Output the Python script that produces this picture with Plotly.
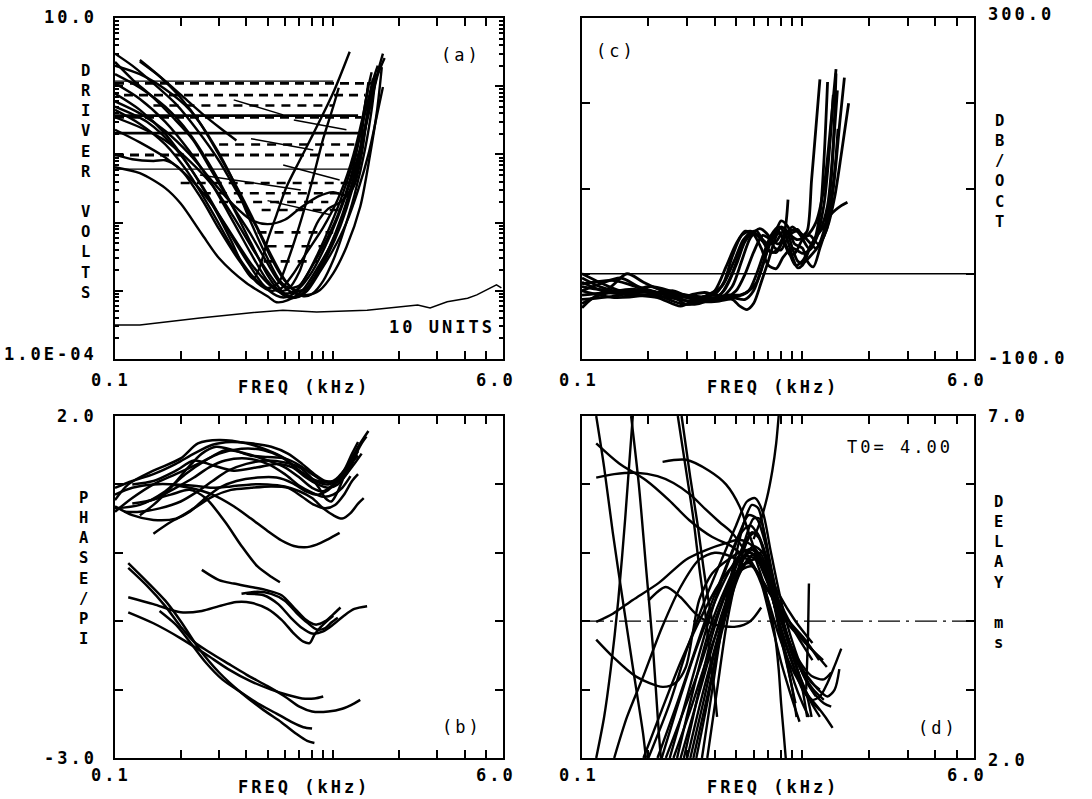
import plotly.graph_objects as go

# ---------------- panel (a): driver volts vs frequency ----------------
A_V1 = [(0.1, 0.065), (0.13, 0.053), (0.17, 0.032), (0.2, 0.019), (0.25, 0.0068), (0.3, 0.003), (0.4, 0.0013),
        (0.5, 0.00083), (0.55, 0.00068), (0.62, 0.00073), (0.72, 0.001), (0.85, 0.0022), (1.0, 0.0056),
        (1.15, 0.018), (1.3, 0.083), (1.45, 0.38), (1.6, 1.46), (1.72, 2.6)]
A_V2 = [(0.1, 2.27), (0.121, 1.23), (0.149, 0.69), (0.184, 0.35), (0.228, 0.163), (0.281, 0.053), (0.347, 0.0171),
        (0.416, 0.007), (0.497, 0.0026), (0.57, 0.0013), (0.655, 0.00093), (0.76, 0.00087), (0.87, 0.00103),
        (1.0, 0.0018), (1.15, 0.0044), (1.33, 0.0171), (1.47, 0.092), (1.59, 0.45), (1.67, 1.9)]
A_V3 = [(0.13, 2.42), (0.161, 1.37), (0.199, 0.69), (0.245, 0.29), (0.303, 0.092), (0.374, 0.027), (0.448, 0.0086),
        (0.513, 0.0036), (0.588, 0.0016), (0.655, 0.00103), (0.73, 0.00083), (0.8, 0.0009), (0.9, 0.0014),
        (1.0, 0.0028), (1.1, 0.0065), (1.25, 0.025), (1.4, 0.12), (1.5, 0.45), (1.56, 1.25)]
A_V4 = [(0.1, 0.78), (0.13, 0.45), (0.17, 0.2), (0.22, 0.065), (0.28, 0.018), (0.34, 0.0055), (0.39, 0.0022),
        (0.43, 0.0015), (0.46, 0.0022), (0.5, 0.0055), (0.55, 0.013), (0.61, 0.033), (0.7, 0.08), (0.81, 0.2),
        (1.0, 0.8), (1.19, 3.2)]
A_V5 = [(0.1, 0.45), (0.13, 0.28), (0.17, 0.14), (0.22, 0.05), (0.28, 0.014), (0.35, 0.004), (0.43, 0.0016),
        (0.5, 0.0011), (0.56, 0.0013), (0.62, 0.0028), (0.7, 0.009), (0.8, 0.04), (0.9, 0.17), (1.0, 0.5),
        (1.06, 0.95)]
A_V6 = [(0.1, 1.5), (0.13, 0.95), (0.17, 0.5), (0.22, 0.2), (0.28, 0.06), (0.35, 0.016), (0.42, 0.005),
        (0.5, 0.0017), (0.58, 0.0009), (0.65, 0.00078), (0.72, 0.0009), (0.82, 0.0016), (0.95, 0.004),
        (1.1, 0.013), (1.25, 0.05), (1.38, 0.2), (1.48, 0.7), (1.56, 1.5)]
A_V7 = [(0.1, 0.23), (0.13, 0.15), (0.17, 0.09), (0.22, 0.045), (0.28, 0.018), (0.35, 0.006), (0.42, 0.0025),
        (0.5, 0.0013), (0.57, 0.00095), (0.63, 0.00092), (0.7, 0.0011), (0.8, 0.0019), (0.92, 0.0045),
        (1.05, 0.012), (1.2, 0.04), (1.35, 0.15), (1.48, 0.55), (1.6, 1.6), (1.69, 3.0)]
A_V8 = [(0.1, 1.1), (0.13, 0.65), (0.17, 0.3), (0.22, 0.11), (0.28, 0.035), (0.35, 0.01), (0.42, 0.0035),
        (0.5, 0.0014), (0.56, 0.001), (0.62, 0.00105), (0.7, 0.0019), (0.78, 0.0055), (0.86, 0.011),
        (0.95, 0.016), (1.08, 0.02), (1.2, 0.03), (1.3, 0.07), (1.38, 0.35), (1.45, 1.15)]
A_V9 = [(0.1, 0.6), (0.13, 0.4), (0.17, 0.22), (0.22, 0.1), (0.28, 0.04), (0.35, 0.018), (0.42, 0.011),
        (0.5, 0.0095), (0.6, 0.011), (0.7, 0.016), (0.85, 0.024), (1.0, 0.028), (1.15, 0.025), (1.25, 0.035),
        (1.35, 0.1), (1.45, 0.5), (1.52, 1.3)]
A_V10 = [(0.1, 0.35), (0.13, 0.25), (0.17, 0.16), (0.22, 0.08), (0.28, 0.035), (0.35, 0.012), (0.43, 0.004),
         (0.52, 0.0016), (0.6, 0.0009), (0.68, 0.0008), (0.76, 0.001), (0.86, 0.0018), (1.0, 0.004),
         (1.15, 0.01), (1.3, 0.03), (1.45, 0.1), (1.58, 0.35), (1.69, 0.97)]
A_V11 = [(0.1, 0.1), (0.12, 0.085), (0.15, 0.08), (0.17, 0.082), (0.2, 0.06), (0.25, 0.022), (0.3, 0.008),
         (0.37, 0.0028), (0.45, 0.0013), (0.52, 0.001), (0.58, 0.0011), (0.65, 0.0017), (0.75, 0.0035),
         (0.9, 0.0085), (1.05, 0.022), (1.2, 0.07), (1.35, 0.3), (1.45, 1.0)]
A_V12 = [(0.1, 2.0), (0.13, 1.5), (0.17, 0.9), (0.22, 0.45), (0.28, 0.15), (0.35, 0.04), (0.42, 0.01),
         (0.5, 0.003), (0.57, 0.0014), (0.63, 0.0011), (0.7, 0.0012), (0.78, 0.002), (0.9, 0.0045),
         (1.05, 0.013), (1.2, 0.045), (1.33, 0.2), (1.43, 0.8), (1.5, 1.6)]
A_V13 = [(0.1, 0.5), (0.14, 0.3), (0.19, 0.12), (0.25, 0.035), (0.32, 0.009), (0.4, 0.0028), (0.48, 0.0012),
         (0.55, 0.00085), (0.6, 0.0008), (0.67, 0.00095), (0.75, 0.0016), (0.85, 0.0035), (0.97, 0.009),
         (1.1, 0.025), (1.25, 0.09), (1.4, 0.4), (1.52, 1.2), (1.6, 2.0)]
A_V14 = [(0.1, 3.0), (0.12, 2.0), (0.15, 1.1), (0.19, 0.55), (0.24, 0.22), (0.3, 0.08), (0.37, 0.025),
         (0.45, 0.008), (0.52, 0.003), (0.6, 0.0014), (0.68, 0.001), (0.76, 0.0011), (0.85, 0.0018),
         (0.95, 0.0035), (1.08, 0.009), (1.22, 0.03), (1.35, 0.12), (1.45, 0.45), (1.53, 1.2)]
A_P1 = [(0.13, 2.3), (0.16, 1.4), (0.2, 0.75), (0.25, 0.4), (0.3, 0.25), (0.36, 0.16)]
A_CURVES = [A_V1, A_V2, A_V3, A_V4, A_V5, A_V6, A_V7, A_V8, A_V9, A_V10, A_V11, A_V12, A_V13, A_V14, A_P1]

# short sloped segments
A_S1 = [(0.35, 0.63), (0.59, 0.38)]
A_S2 = [(0.42, 0.17), (0.81, 0.116)]
A_S3 = [(0.66, 0.32), (1.15, 0.23)]
A_S4 = [(0.245, 0.05), (0.71, 0.03)]
A_S5 = [(0.59, 0.07), (1.07, 0.042)]
A_S6 = [(0.5, 0.021), (0.97, 0.013)]
A_SEGMENTS = [A_S1, A_S2, A_S3, A_S4, A_S5, A_S6]

# horizontal level lines
A_H_LEVEL = [1.19, 1.1, 0.74, 0.35, 0.37, 0.205, 0.098, 0.061, 0.038, 0.027, 0.0153, 0.0072, 0.0027,
             0.52, 0.14, 0.02, 0.0045]
A_H_START = [0.1, 0.1, 0.11, 0.1, 0.1, 0.1, 0.1, 0.1, 0.2, 0.25, 0.47, 0.45, 0.48, 0.15, 0.3, 0.3, 0.5]
A_H_END = [1.0, 1.55, 1.4, 1.35, 1.3, 1.38, 1.3, 1.2, 1.2, 1.1, 1.15, 1.0, 0.85, 1.0, 1.25, 0.95, 0.9]

# 10-unit reference trace
A_UNITS = [(0.1, 0.000315), (0.13, 0.000315), (0.245, 0.0004), (0.4, 0.00047), (0.588, 0.00052),
           (0.84, 0.00049), (1.43, 0.00052), (2.44, 0.00062), (2.78, 0.00056), (3.33, 0.00069),
           (4.13, 0.00078), (4.55, 0.00087), (5.6, 0.00122), (5.9, 0.0011)]

# ---------------- panel (c): slope in dB/oct ----------------
C1 = [(0.1, -20), (0.12, -12), (0.15, -5), (0.18, -15), (0.22, -22), (0.27, -30), (0.3, -36), (0.35, -30),
      (0.4, -20), (0.45, 8), (0.5, 35), (0.55, 50), (0.6, 46), (0.65, 30), (0.7, 10), (0.76, 6), (0.82, 20),
      (0.9, 30), (1.0, 24), (1.1, 30), (1.2, 70), (1.25, 130), (1.3, 225)]
C2 = [(0.1, -5), (0.12, -15), (0.15, -22), (0.2, -25), (0.25, -28), (0.3, -32), (0.35, -33), (0.42, -30),
      (0.48, -15), (0.53, 15), (0.58, 42), (0.64, 53), (0.7, 45), (0.75, 30), (0.8, 28), (0.87, 45), (0.95, 50),
      (1.05, 40), (1.15, 30), (1.25, 50), (1.35, 110), (1.42, 235)]
C3 = [(0.1, -40), (0.11, -30), (0.13, -20), (0.16, -22), (0.2, -20), (0.25, -25), (0.3, -28), (0.36, -33),
      (0.42, -32), (0.48, -30), (0.52, -38), (0.56, -42), (0.6, -35), (0.65, -10), (0.7, 15), (0.75, 40),
      (0.8, 55), (0.85, 50), (0.9, 30), (0.95, 15), (1.0, 12), (1.08, 20), (1.2, 35), (1.3, 55), (1.4, 90),
      (1.5, 140), (1.62, 200)]
C4 = [(0.1, -15), (0.13, -18), (0.16, 0), (0.19, -10), (0.23, -20), (0.28, -28), (0.32, -24), (0.36, -22),
      (0.42, -25), (0.47, -5), (0.52, 25), (0.57, 47), (0.62, 50), (0.68, 35), (0.73, 40), (0.8, 62), (0.86, 55),
      (0.92, 35), (1.0, 30), (1.05, 15), (1.12, 8), (1.2, 30), (1.3, 60), (1.4, 120), (1.45, 170)]
C5 = [(0.1, -25), (0.13, -22), (0.17, -18), (0.22, -25), (0.28, -35), (0.34, -35), (0.4, -28), (0.46, -25),
      (0.52, -25), (0.57, -20), (0.62, 0), (0.67, 25), (0.72, 45), (0.78, 55), (0.84, 45), (0.9, 20), (0.95, 7),
      (1.0, 10), (1.08, 30), (1.16, 45), (1.25, 55), (1.35, 70), (1.5, 80), (1.6, 84)]
C6 = [(0.1, 0), (0.12, -10), (0.15, -20), (0.2, -22), (0.25, -22), (0.3, -25), (0.35, -27), (0.4, -24),
      (0.44, -10), (0.48, 20), (0.53, 45), (0.58, 50), (0.64, 43), (0.7, 35), (0.76, 38), (0.82, 50), (0.88, 45),
      (0.95, 40), (1.05, 45), (1.15, 60), (1.25, 100), (1.35, 180), (1.42, 240)]
C7 = [(0.1, -10), (0.13, -22), (0.17, -25), (0.22, -28), (0.28, -38), (0.33, -30), (0.38, -28), (0.44, -28),
      (0.5, -27), (0.56, -22), (0.62, -10), (0.67, 15), (0.72, 40), (0.78, 50), (0.83, 35), (0.88, 22),
      (0.93, 25), (1.0, 40), (1.08, 45), (1.18, 35), (1.28, 50), (1.38, 100), (1.48, 180), (1.55, 230)]
C8 = [(0.1, -30), (0.15, -25), (0.2, -15), (0.25, -20), (0.3, -28), (0.38, -30), (0.45, -28), (0.5, -20),
      (0.55, 0), (0.6, 25), (0.66, 45), (0.72, 40), (0.78, 35), (0.83, 50), (0.86, 87)]
C9 = [(0.1, -20), (0.14, -28), (0.2, -25), (0.26, -20), (0.32, -30), (0.38, -32), (0.44, -20), (0.5, 10),
      (0.55, 38), (0.6, 48), (0.66, 38), (0.72, 25), (0.78, 30), (0.85, 48), (0.95, 52), (1.0, 45), (1.05, 50),
      (1.1, 110), (1.15, 170), (1.2, 228)]
C10 = [(0.1, -35), (0.12, -25), (0.16, -20), (0.22, -22), (0.28, -25), (0.35, -28), (0.42, -30), (0.48, -28),
       (0.55, -30), (0.6, -20), (0.65, 5), (0.7, 30), (0.75, 48), (0.8, 45), (0.87, 25), (0.93, 10), (1.0, 15),
       (1.1, 35), (1.2, 50), (1.3, 80), (1.38, 150), (1.44, 215)]
C11 = [(0.1, -12), (0.14, -8), (0.19, -18), (0.25, -26), (0.31, -32), (0.37, -25), (0.43, -15), (0.49, 15),
       (0.54, 40), (0.59, 48), (0.65, 42), (0.7, 28), (0.76, 25), (0.82, 40), (0.9, 55), (0.98, 45), (1.07, 30),
       (1.15, 40), (1.25, 80), (1.33, 150), (1.38, 210)]
C_CURVES = [C1, C2, C3, C4, C5, C6, C7, C8, C9, C10, C11]
C_ZERO = [(0.1, 0), (6.0, 0)]

# ---------------- panel (b): phase / pi ----------------
B_U1 = [(0.1, 0.77), (0.115, 1.0), (0.15, 1.2), (0.2, 1.38), (0.24, 1.6), (0.3, 1.65), (0.4, 1.6), (0.5, 1.5),
        (0.6, 1.38), (0.7, 1.2), (0.85, 1.05), (1.0, 1.05), (1.15, 1.25), (1.3, 1.55), (1.45, 1.78)]
B_U2 = [(0.1, 0.6), (0.12, 0.8), (0.15, 1.0), (0.19, 1.15), (0.24, 1.3), (0.3, 1.45), (0.38, 1.52), (0.48, 1.5),
        (0.58, 1.4), (0.7, 1.2), (0.82, 1.05), (0.95, 1.0), (1.08, 1.1), (1.2, 1.35), (1.3, 1.48)]
B_U3 = [(0.12, 1.0), (0.15, 1.05), (0.19, 1.2), (0.23, 1.35), (0.28, 1.28), (0.35, 1.2), (0.45, 1.25),
        (0.55, 1.3), (0.65, 1.25), (0.75, 1.1), (0.85, 1.0), (0.95, 0.95), (1.05, 1.0), (1.15, 1.15),
        (1.25, 1.3), (1.35, 1.45)]
B_U4 = [(0.1, 0.65), (0.13, 0.7), (0.17, 0.9), (0.21, 1.15), (0.26, 1.35), (0.32, 1.5), (0.4, 1.45), (0.5, 1.35),
        (0.6, 1.25), (0.7, 1.1), (0.8, 0.95), (0.9, 0.9), (1.0, 1.0), (1.1, 1.15), (1.2, 1.3), (1.3, 1.42)]
B_U5 = [(0.1, 0.68), (0.12, 0.55), (0.15, 0.48), (0.19, 0.5), (0.23, 0.65), (0.28, 0.82), (0.34, 0.92),
        (0.42, 0.95), (0.52, 0.97), (0.62, 0.95), (0.72, 0.82), (0.82, 0.7), (0.92, 0.65), (1.02, 0.7),
        (1.12, 0.85), (1.22, 1.05), (1.3, 1.15)]
B_U6 = [(0.15, 0.28), (0.18, 0.45), (0.22, 0.6), (0.26, 0.8), (0.3, 0.95), (0.36, 1.05), (0.45, 1.1),
        (0.55, 1.1), (0.65, 1.02), (0.75, 0.9), (0.85, 0.85), (0.95, 0.92), (1.05, 1.05), (1.15, 1.2),
        (1.25, 1.4), (1.3, 1.5)]
B_U7 = [(0.18, 1.0), (0.22, 0.95), (0.28, 0.85), (0.35, 0.68), (0.42, 0.5), (0.5, 0.32), (0.58, 0.18),
        (0.66, 0.1), (0.74, 0.08), (0.84, 0.12), (0.95, 0.2), (1.07, 0.29)]
B_U8 = [(0.14, 0.75), (0.18, 0.85), (0.22, 0.92), (0.26, 0.8), (0.32, 0.45), (0.38, 0.1), (0.45, -0.2),
        (0.52, -0.35), (0.57, -0.43)]
B_U9 = [(0.1, 0.85), (0.12, 0.95), (0.15, 1.0), (0.19, 1.0), (0.23, 0.98), (0.28, 0.95), (0.34, 0.97),
        (0.42, 1.0), (0.5, 1.0), (0.6, 0.97), (0.7, 0.9), (0.8, 0.8), (0.9, 0.65), (1.0, 0.55), (1.1, 0.5),
        (1.2, 0.58), (1.3, 0.72), (1.38, 0.8)]
B_U10 = [(0.11, 0.6), (0.13, 0.6), (0.16, 0.65), (0.2, 0.75), (0.24, 0.9), (0.28, 1.05), (0.33, 1.2),
         (0.4, 1.3), (0.5, 1.35), (0.6, 1.32), (0.7, 1.25), (0.78, 1.12), (0.86, 0.95), (0.92, 0.8),
         (0.98, 0.75), (1.05, 0.9), (1.15, 1.2), (1.25, 1.4), (1.35, 1.6), (1.42, 1.7)]
B_U11 = [(0.13, 0.55), (0.15, 0.7), (0.18, 0.95), (0.21, 1.2), (0.25, 1.45), (0.29, 1.55), (0.35, 1.5),
         (0.42, 1.42), (0.5, 1.4), (0.6, 1.38), (0.7, 1.28), (0.8, 1.15), (0.9, 1.05), (1.0, 1.02), (1.1, 1.08),
         (1.2, 1.25), (1.28, 1.45)]
B_U12 = [(0.1, 0.95), (0.12, 1.05), (0.15, 1.15), (0.19, 1.3), (0.23, 1.45), (0.28, 1.58), (0.34, 1.62),
         (0.42, 1.6), (0.52, 1.55), (0.62, 1.45), (0.72, 1.3), (0.82, 1.15), (0.92, 1.05), (1.02, 1.05),
         (1.12, 1.2), (1.22, 1.45), (1.3, 1.62)]
B_U13 = [(0.12, 0.72), (0.15, 0.78), (0.19, 0.95), (0.23, 1.1), (0.27, 1.25), (0.32, 1.35), (0.4, 1.38),
         (0.5, 1.3), (0.6, 1.15), (0.7, 0.98), (0.8, 0.88), (0.9, 0.82), (1.0, 0.85), (1.1, 0.95), (1.2, 1.12)]
B_M1 = [(0.25, -0.25), (0.3, -0.4), (0.35, -0.45), (0.42, -0.5), (0.5, -0.55), (0.58, -0.62), (0.66, -0.8),
        (0.75, -0.98), (0.83, -1.05), (0.92, -1.0), (1.0, -0.9), (1.08, -0.8)]
B_M2 = [(0.115, -0.65), (0.15, -0.75), (0.2, -0.87), (0.25, -0.85), (0.3, -0.78), (0.36, -0.72), (0.42, -0.73),
        (0.5, -0.82), (0.58, -0.98), (0.66, -1.18), (0.73, -1.3), (0.78, -1.32), (0.82, -1.2), (0.88, -1.08),
        (0.95, -0.98), (1.0, -0.92)]
B_M3 = [(0.4, -0.6), (0.48, -0.62), (0.56, -0.75), (0.64, -0.95), (0.72, -1.1), (0.8, -1.18), (0.9, -1.15),
        (1.0, -1.05), (1.12, -0.92), (1.25, -0.82), (1.43, -0.78)]
B_M4 = [(0.38, -0.6), (0.45, -0.57), (0.52, -0.6), (0.6, -0.7), (0.68, -0.88), (0.76, -1.02), (0.84, -1.12),
        (0.92, -1.1), (0.98, -1.02), (1.05, -0.95)]
B_L1 = [(0.115, -0.15), (0.14, -0.42), (0.17, -0.7), (0.2, -1.0), (0.24, -1.38), (0.3, -1.75), (0.38, -2.05),
        (0.48, -2.3), (0.58, -2.48), (0.68, -2.65), (0.76, -2.75), (0.82, -2.78)]
B_L2 = [(0.115, -0.22), (0.14, -0.48), (0.17, -0.78), (0.2, -1.08), (0.23, -1.3), (0.27, -1.45), (0.33, -1.62),
        (0.4, -1.78), (0.5, -1.95), (0.6, -2.1), (0.7, -2.25), (0.8, -2.32), (0.95, -2.32), (1.1, -2.28),
        (1.25, -2.2), (1.33, -2.15)]
B_L3 = [(0.115, -0.87), (0.15, -1.03), (0.2, -1.25), (0.26, -1.48), (0.33, -1.7), (0.42, -1.88), (0.52, -2.0),
        (0.62, -2.08), (0.72, -2.13), (0.82, -2.13), (0.9, -2.1)]
B_L4 = [(0.16, -0.85), (0.19, -1.05), (0.22, -1.3), (0.26, -1.6), (0.31, -1.85), (0.37, -2.02), (0.45, -2.2),
        (0.55, -2.35), (0.65, -2.48), (0.73, -2.55), (0.8, -2.57)]
B_CURVES = [B_U1, B_U2, B_U3, B_U4, B_U5, B_U6, B_U7, B_U8, B_U9, B_U10, B_U11, B_U12, B_U13,
            B_M1, B_M2, B_M3, B_M4, B_L1, B_L2, B_L3, B_L4]

# ---------------- panel (d): group delay (ms) ----------------
D1 = [(0.116, 7.0), (0.126, 6.25), (0.138, 5.29), (0.153, 4.31), (0.17, 3.33), (0.189, 2.37), (0.195, 2.0)]
D2 = [(0.167, 7.0), (0.181, 6.0), (0.195, 4.8), (0.21, 3.6), (0.223, 2.37), (0.228, 2.0)]
D3 = [(0.272, 7.0), (0.3, 6.1), (0.32, 5.5), (0.34, 4.8), (0.36, 4.2), (0.38, 3.5), (0.4, 2.95), (0.41, 2.6)]
D3B = [(0.283, 7.0), (0.31, 6.1), (0.335, 5.4), (0.355, 4.8), (0.375, 4.3), (0.39, 4.0)]
D4 = [(0.6, 5.2), (0.65, 5.5), (0.69, 5.8), (0.73, 6.2), (0.76, 6.6), (0.78, 7.0)]
D5 = [(0.6, 5.0), (0.66, 4.6), (0.71, 4.2), (0.75, 3.8), (0.78, 3.3), (0.8, 2.8), (0.82, 2.4), (0.84, 2.0)]
D6 = [(0.116, 6.1), (0.14, 6.15), (0.176, 6.17), (0.22, 6.12), (0.26, 6.02), (0.31, 5.85), (0.365, 5.63),
      (0.42, 5.45), (0.48, 5.29), (0.57, 4.94), (0.68, 4.5), (0.84, 4.06), (1.0, 3.75), (1.11, 3.58), (1.29, 3.33)]
D7 = [(0.232, 6.33), (0.296, 6.36), (0.377, 6.2), (0.45, 6.0), (0.52, 5.67), (0.57, 5.3), (0.63, 4.9),
      (0.73, 4.4), (0.84, 4.0), (1.03, 3.68), (1.24, 3.43)]
D8 = [(0.116, 6.6), (0.147, 6.31), (0.195, 6.06), (0.248, 5.77), (0.306, 5.48), (0.39, 5.23), (0.48, 5.09),
      (0.6, 4.8), (0.7, 4.46), (0.87, 4.0), (1.03, 3.73), (1.19, 3.43)]
D9 = [(0.116, 3.99), (0.138, 4.11), (0.17, 4.31), (0.223, 4.56), (0.296, 4.9), (0.365, 5.04), (0.45, 5.14),
      (0.52, 5.19), (0.6, 5.09), (0.68, 4.8), (0.78, 4.4), (0.93, 4.0), (1.11, 3.68)]
D10 = [(0.116, 3.73), (0.138, 3.48), (0.176, 3.19), (0.232, 3.04), (0.266, 3.1), (0.296, 3.33), (0.318, 3.83),
       (0.34, 4.31), (0.39, 4.7), (0.46, 4.9), (0.555, 5.04), (0.66, 4.8), (0.78, 4.31), (0.93, 3.83),
       (1.11, 3.43)]
D12 = [(0.2, 4.3), (0.24, 4.5), (0.28, 4.35), (0.33, 4.1), (0.4, 3.95), (0.5, 3.92), (0.58, 4.0), (0.65, 4.2)]
D15 = [(0.116, 2.0), (0.126, 2.6), (0.135, 3.3), (0.146, 4.3), (0.157, 5.5), (0.17, 7.0)]
D17 = [(0.14, 2.0), (0.16, 2.6), (0.19, 3.2), (0.23, 3.9), (0.28, 4.5), (0.34, 4.9), (0.4, 5.0), (0.47, 4.95),
       (0.55, 4.8)]
D18 = [(0.35, 2.0), (0.39, 3.0), (0.43, 3.9), (0.47, 4.6), (0.51, 5.1), (0.55, 5.5), (0.59, 5.7), (0.63, 5.65),
       (0.67, 5.3), (0.72, 4.7), (0.78, 4.0), (0.85, 3.4), (0.9, 3.0), (0.94, 2.6)]
D19 = [(0.37, 2.0), (0.41, 3.0), (0.45, 3.9), (0.49, 4.5), (0.53, 4.95), (0.58, 5.25), (0.62, 5.3), (0.66, 5.1),
       (0.71, 4.6), (0.78, 3.9), (0.86, 3.3), (0.93, 2.8)]
D_VERT = [(1.04, 3.0), (1.06, 3.8), (1.07, 4.55)]
DB1 = [(0.2, 2.0), (0.25, 2.8), (0.3, 3.6), (0.36, 4.3), (0.43, 4.9), (0.5, 5.4), (0.56, 5.75), (0.61, 5.8),
       (0.66, 5.6), (0.72, 5.0), (0.8, 4.3), (0.9, 3.7), (1.0, 3.3), (1.1, 3.1), (1.2, 3.0)]
DB2 = [(0.22, 2.0), (0.27, 2.8), (0.32, 3.5), (0.38, 4.2), (0.45, 4.8), (0.52, 5.3), (0.57, 5.55), (0.62, 5.5),
       (0.67, 5.2), (0.74, 4.6), (0.82, 4.0), (0.92, 3.5), (1.02, 3.2), (1.12, 3.0), (1.25, 2.85)]
DB3 = [(0.24, 2.0), (0.29, 2.7), (0.34, 3.3), (0.4, 4.0), (0.47, 4.6), (0.54, 5.1), (0.59, 5.3), (0.64, 5.2),
       (0.7, 4.85), (0.77, 4.3), (0.85, 3.8), (0.95, 3.4), (1.05, 3.1), (1.15, 2.9)]
DB4 = [(0.26, 2.0), (0.31, 2.7), (0.36, 3.35), (0.42, 3.95), (0.48, 4.5), (0.55, 4.95), (0.6, 5.1), (0.66, 5.0),
       (0.72, 4.7), (0.8, 4.1), (0.88, 3.65), (0.98, 3.3), (1.1, 3.0), (1.25, 2.8), (1.35, 2.75)]
DB5 = [(0.28, 2.0), (0.33, 2.8), (0.38, 3.5), (0.43, 4.1), (0.49, 4.6), (0.55, 4.85), (0.61, 4.9), (0.67, 4.75),
       (0.74, 4.4), (0.82, 3.9), (0.9, 3.5), (1.0, 3.1), (1.1, 2.8), (1.2, 2.6)]
DB6 = [(0.3, 2.0), (0.35, 2.9), (0.4, 3.6), (0.46, 4.3), (0.52, 4.8), (0.57, 5.05), (0.62, 5.0), (0.68, 4.7),
       (0.75, 4.2), (0.83, 3.7), (0.92, 3.3), (1.02, 3.0), (1.12, 2.8), (1.2, 2.7)]
DB7 = [(0.32, 2.0), (0.37, 2.9), (0.42, 3.7), (0.47, 4.3), (0.52, 4.7), (0.58, 4.95), (0.64, 5.0), (0.7, 4.7),
       (0.77, 4.2), (0.85, 3.8), (0.93, 3.4), (1.0, 3.0), (1.05, 2.6)]
DB8 = [(0.33, 2.0), (0.38, 3.0), (0.42, 3.8), (0.46, 4.4), (0.5, 4.8), (0.55, 5.2), (0.6, 5.5), (0.64, 5.5),
       (0.68, 5.2), (0.73, 4.7), (0.8, 4.1), (0.88, 3.6), (0.97, 3.2), (1.05, 2.9), (1.1, 2.6)]
DB9 = [(0.19, 2.0), (0.23, 2.7), (0.28, 3.4), (0.34, 4.0), (0.41, 4.5), (0.48, 4.8), (0.55, 4.95), (0.62, 4.9),
       (0.7, 4.55), (0.8, 4.0), (0.9, 3.6), (1.0, 3.35), (1.1, 3.2), (1.25, 3.15), (1.35, 3.25)]
DB10 = [(0.25, 2.0), (0.3, 2.9), (0.36, 3.8), (0.42, 4.5), (0.48, 5.0), (0.53, 5.3), (0.58, 5.4), (0.63, 5.25),
        (0.69, 4.85), (0.76, 4.3), (0.85, 3.8), (0.95, 3.4), (1.05, 3.2), (1.18, 3.0), (1.3, 2.9), (1.4, 3.0),
        (1.47, 3.3)]
DB11 = [(0.27, 2.0), (0.32, 3.0), (0.38, 3.9), (0.45, 4.5), (0.52, 4.9), (0.58, 5.0), (0.65, 4.85), (0.72, 4.4),
        (0.8, 3.9), (0.9, 3.4), (1.0, 3.0), (1.1, 2.85), (1.2, 2.9), (1.3, 3.1), (1.4, 3.35), (1.5, 3.6)]
DB12 = [(0.29, 2.0), (0.34, 3.0), (0.39, 3.8), (0.45, 4.4), (0.51, 4.75), (0.57, 4.85), (0.63, 4.7), (0.7, 4.3),
        (0.78, 3.8), (0.87, 3.4), (0.97, 3.1), (1.07, 2.9), (1.17, 2.75), (1.27, 2.6), (1.37, 2.44)]
DB13 = [(0.31, 2.0), (0.36, 2.9), (0.41, 3.7), (0.47, 4.35), (0.53, 4.75), (0.59, 4.8), (0.65, 4.55), (0.72, 4.0),
        (0.8, 3.4), (0.88, 2.95), (0.97, 2.53)]
DB14 = [(0.23, 2.0), (0.28, 2.9), (0.33, 3.6), (0.39, 4.2), (0.46, 4.7), (0.53, 5.0), (0.6, 5.05), (0.67, 4.8),
        (0.75, 4.2), (0.83, 3.6), (0.92, 3.1), (1.0, 2.8), (1.07, 2.6)]
D_CURVES = [D1, D2, D3, D3B, D4, D5, D6, D7, D8, D9, D10, D12, D15, D17, D18, D19, D_VERT,
            DB1, DB2, DB3, DB4, DB5, DB6, DB7, DB8, DB9, DB10, DB11, DB12, DB13, DB14]
D_T0 = [(0.1, 4.0), (6.0, 4.0)]

X_TICKS = [0.2, 0.3, 0.4, 0.5, 0.6, 0.7, 0.8, 0.9, 1.0, 2.0, 3.0, 4.0, 5.0]

# ---------------- figure ----------------
W, H = 1092, 799
FONT = "DejaVu Sans Mono"
fig = go.Figure()

AXES = {"a": ("x", "y"), "c": ("x2", "y2"), "b": ("x3", "y3"), "d": ("x4", "y4")}


def draw(panel, pts, width=2.5, dash="solid", shape="spline"):
    xa, ya = AXES[panel]
    fig.add_trace(go.Scatter(
        x=[p[0] for p in pts], y=[p[1] for p in pts], mode="lines",
        line=dict(color="black", width=width, dash=dash, shape=shape, smoothing=0.8),
        xaxis=xa, yaxis=ya, showlegend=False, hoverinfo="skip"))


# panel (a)
h_styles = [("solid", 1.3), ("9px,6px", 2.8), ("9px,6px", 2.8), ("9px,6px", 2.8), ("solid", 2.6),
            ("solid", 2.8), ("9px,6px", 2.8), ("solid", 1.3), ("9px,7px", 2.6), ("9px,7px", 2.6),
            ("9px,8px", 2.6), ("9px,8px", 2.6), ("9px,8px", 2.6), ("9px,7px", 2.4), ("9px,7px", 2.4),
            ("9px,8px", 2.4), ("9px,8px", 2.4)]
for lev, f0, f1, (dsh, wd) in zip(A_H_LEVEL, A_H_START, A_H_END, h_styles):
    draw("a", [(f0, lev), (f1, lev)], width=wd, dash=dsh, shape="linear")
for seg in A_SEGMENTS:
    draw("a", seg, width=1.5, shape="linear")
for crv in A_CURVES:
    draw("a", crv, width=2.4)
draw("a", A_UNITS, width=1.5, shape="linear")

# panel (c)
draw("c", C_ZERO, width=1.5, shape="linear")
for crv in C_CURVES:
    draw("c", crv, width=2.8)

# panel (b)
for crv in B_CURVES:
    draw("b", crv, width=2.5)

# panel (d)
draw("d", D_T0, width=1.3, dash="22px,6px,3px,6px", shape="linear")
for crv in D_CURVES:
    draw("d", crv, width=2.4)

xl = [115 / W, 503 / W]
xr = [582 / W, 974 / W]
yt = [1 - 359 / H, 1 - 18 / H]
yb = [1 - 758 / H, 1 - 416 / H]

frame = dict(showline=True, linecolor="black", linewidth=2, mirror="ticks", ticks="inside",
             ticklen=8, tickwidth=2, tickcolor="black", showgrid=False, zeroline=False,
             showticklabels=False, fixedrange=True)

xaxis_common = dict(type="log", range=[-1, 0.77815], tickmode="array", tickvals=X_TICKS, **frame)

decades = [1e-4, 1e-3, 1e-2, 1e-1, 1, 10]
minors = [m * d for d in decades[:-1] for m in range(2, 10)]

fig.update_layout(
    width=W, height=H, margin=dict(l=0, r=0, t=0, b=0),
    paper_bgcolor="white", plot_bgcolor="white",
    xaxis=dict(domain=xl, anchor="y", **xaxis_common),
    yaxis=dict(domain=yt, anchor="x", type="log", range=[-4, 1], tickmode="array", tickvals=decades,
               minor=dict(tickmode="array", tickvals=minors, ticks="inside", ticklen=4, tickwidth=1.5,
                          tickcolor="black", showgrid=False), **frame),
    xaxis2=dict(domain=xr, anchor="y2", **xaxis_common),
    yaxis2=dict(domain=yt, anchor="x2", range=[-100, 300], tickmode="array", tickvals=[0, 100, 200], **frame),
    xaxis3=dict(domain=xl, anchor="y3", **xaxis_common),
    yaxis3=dict(domain=yb, anchor="x3", range=[-3, 2], tickmode="array", tickvals=[-2, -1, 0, 1], **frame),
    xaxis4=dict(domain=xr, anchor="y4", **xaxis_common),
    yaxis4=dict(domain=yb, anchor="x4", range=[2, 7], tickmode="array", tickvals=[3, 4, 5, 6], **frame),
)


def label(px, py, text, size=17, xanchor="center", yanchor="middle", bold=False, spacing=3):
    body = text if spacing == 0 else f'<span style="letter-spacing:{spacing}px">{text}</span>'
    if bold:
        body = f"<b>{body}</b>"
    fig.add_annotation(x=px / W, y=1 - py / H, xref="paper", yref="paper", text=body, showarrow=False,
                       xanchor=xanchor, yanchor=yanchor,
                       font=dict(family=FONT, size=size, color="black"))


def stacked(px, py, text, size=15.5):
    fig.add_annotation(x=px / W, y=1 - py / H, xref="paper", yref="paper",
                       text="<b>" + "<br>".join(text) + "</b>", showarrow=False,
                       xanchor="center", yanchor="middle",
                       font=dict(family=FONT, size=size, color="black"))


# frequency axis labels
for x0, x1, ylab, yttl, xc in [(111, 496, 380, 387, 304), (579, 967, 380, 387, 773),
                                (111, 496, 775, 787, 304), (579, 967, 775, 787, 773)]:
    label(x0, ylab, "0.1", bold=True)
    label(x1, ylab, "6.0", bold=True)
    label(xc, yttl, "FREQ (kHz)", bold=True)

# value axis end labels
label(99, 17, "10.0", xanchor="right", bold=True)
label(99, 354, "1.0E-04", xanchor="right", bold=True)
label(99, 416, "2.0", xanchor="right", bold=True)
label(99, 758, "-3.0", xanchor="right", bold=True)
label(986, 14, "300.0", xanchor="left", bold=True)
label(986, 358, "-100.0", xanchor="left", bold=True)
label(986, 416, "7.0", xanchor="left", bold=True)
label(986, 760, "2.0", xanchor="left", bold=True)

stacked(86, 182, "DRIVER VOLTS")
stacked(84, 568, "PHASE/PI")
stacked(999, 171, "DB/OCT")
stacked(999, 572, "DELAY ms")

label(461, 55, "(a)")
label(616, 51, "(c)")
label(462, 727, "(b)")
label(938, 728, "(d)")
label(900, 447, "T0= 4.00")
label(442, 327, "10 UNITS", bold=True)

fig.write_html("out.html")
